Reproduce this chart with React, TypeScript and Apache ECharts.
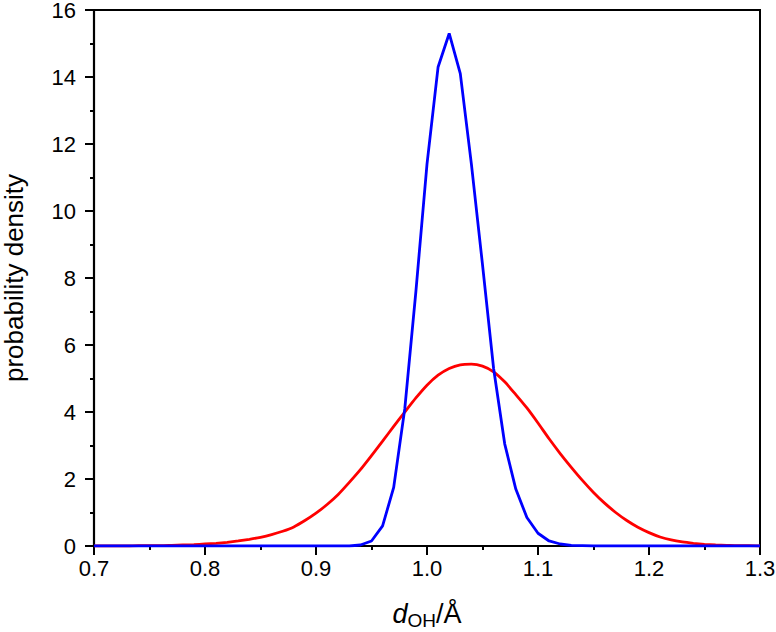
import React, { useEffect, useRef } from "react";
import * as echarts from "echarts";

const xValues: number[] = [
  0.7, 0.71, 0.72, 0.73, 0.74, 0.75, 0.76, 0.77, 0.78, 0.79,
  0.8, 0.81, 0.82, 0.83, 0.84, 0.85, 0.86, 0.87, 0.88, 0.89,
  0.9, 0.91, 0.92, 0.93, 0.94, 0.95, 0.96, 0.97, 0.98, 0.99,
  1.0, 1.01, 1.02, 1.03, 1.04, 1.05, 1.06, 1.07, 1.08, 1.09,
  1.1, 1.11, 1.12, 1.13, 1.14, 1.15, 1.16, 1.17, 1.18, 1.19,
  1.2, 1.21, 1.22, 1.23, 1.24, 1.25, 1.26, 1.27, 1.28, 1.29, 1.3,
];

const redValues: number[] = [
  0.0, 0.0, 0.0, 0.0, 0.01, 0.01, 0.01, 0.02, 0.03, 0.04,
  0.06, 0.08, 0.11, 0.15, 0.2, 0.26, 0.34, 0.44, 0.57, 0.76,
  0.98, 1.24, 1.54, 1.9, 2.28, 2.7, 3.13, 3.57, 4.0, 4.42,
  4.8, 5.1, 5.3, 5.41, 5.43, 5.37, 5.2, 4.9, 4.52, 4.12,
  3.67, 3.2, 2.76, 2.35, 1.96, 1.6, 1.28, 1.0, 0.76, 0.56,
  0.4, 0.27, 0.18, 0.12, 0.08, 0.05, 0.03, 0.02, 0.01, 0.01, 0.0,
];

const blueValues: number[] = [
  0, 0, 0, 0, 0, 0, 0, 0, 0, 0,
  0, 0, 0, 0, 0, 0, 0, 0, 0, 0,
  0, 0, 0, 0.0, 0.03, 0.15, 0.6, 1.75, 4.1, 7.6,
  11.4, 14.3, 15.3, 14.1, 11.4, 8.4, 5.3, 3.05, 1.7, 0.85,
  0.38, 0.15, 0.06, 0.02, 0.01, 0, 0, 0, 0, 0,
  0, 0, 0, 0, 0, 0, 0, 0, 0, 0, 0,
];

const FONT = "'Liberation Sans', Arial, Helvetica, sans-serif";

export default function App() {
  const ref = useRef<HTMLDivElement>(null);
  useEffect(() => {
    if (!ref.current) return;
    const chart = echarts.init(ref.current, null, { renderer: "svg" });
    const red = xValues.map((x, i) => [x, redValues[i]]);
    const blue = xValues.map((x, i) => [x, blueValues[i]]);
    chart.setOption({
      animation: false,
      backgroundColor: "#ffffff",
      textStyle: { fontFamily: FONT },
      grid: {
        left: 94,
        right: 16,
        top: 10,
        bottom: 86,
        containLabel: false,
        outerBoundsMode: "none",
        show: true,
        borderColor: "#000",
        borderWidth: 2,
        backgroundColor: "transparent",
      },
      xAxis: {
        type: "value",
        min: 0.7,
        max: 1.3,
        interval: 0.1,
        name: "{i|d}{s|OH}{n|/Å}",
        nameLocation: "middle",
        nameGap: 51,
        nameTextStyle: {
          rich: {
            i: { fontStyle: "italic", fontSize: 27, fontFamily: FONT, color: "#000" },
            s: { fontSize: 19, fontFamily: FONT, color: "#000", padding: [14, 0, 0, 0] },
            n: { fontSize: 27, fontFamily: FONT, color: "#000" },
          },
        },
        axisLine: { show: true, onZero: false, lineStyle: { color: "#000", width: 2.2 } },
        axisTick: { show: true, inside: false, length: 9, lineStyle: { color: "#000", width: 2 } },
        minorTick: { show: true, splitNumber: 2, length: 4, lineStyle: { color: "#000", width: 2 } },
        axisLabel: {
          color: "#000",
          fontSize: 22,
          lineHeight: 18,
          fontFamily: FONT,
          margin: 13,
          formatter: (v: number) => v.toFixed(1),
        },
        splitLine: { show: false },
      },
      yAxis: {
        type: "value",
        min: 0,
        max: 16,
        interval: 2,
        name: "probability density",
        nameLocation: "middle",
        nameGap: 67,
        nameTextStyle: { color: "#000", fontSize: 26, fontFamily: FONT },
        axisLine: { show: true, onZero: false, lineStyle: { color: "#000", width: 2.2 } },
        axisTick: { show: true, inside: false, length: 9, lineStyle: { color: "#000", width: 2 } },
        minorTick: { show: true, splitNumber: 2, length: 4, lineStyle: { color: "#000", width: 2 } },
        axisLabel: { color: "#000", fontSize: 22, lineHeight: 18, fontFamily: FONT, margin: 18 },
        splitLine: { show: false },
      },
      series: [
        {
          type: "line",
          data: red,
          showSymbol: false,
          symbol: "none",
          smooth: 0.2,
          lineStyle: { color: "#ff0000", width: 2.8 },
          z: 2,
        },
        {
          type: "line",
          data: blue,
          showSymbol: false,
          symbol: "none",
          lineStyle: { color: "#0000ff", width: 2.8 },
          z: 3,
        },
      ],
    });
    return () => chart.dispose();
  }, []);
  return <div ref={ref} style={{ width: 776, height: 632, position: "absolute", left: 0, top: 0 }} />;
}
